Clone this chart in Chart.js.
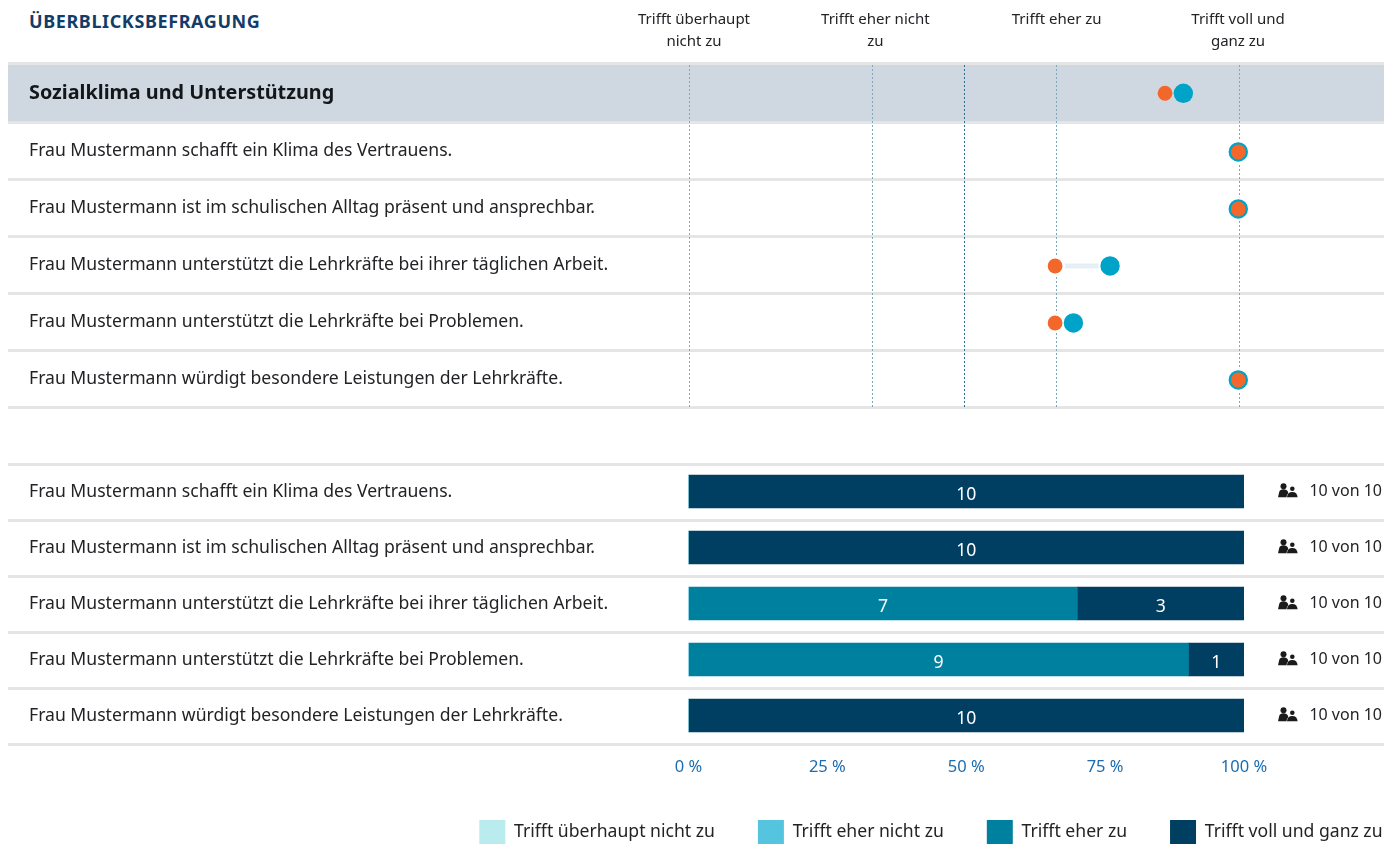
<!DOCTYPE html>
<html lang="de"><head><meta charset="utf-8">
<script src="https://cdn.jsdelivr.net/npm/chart.js@4"></script>
<style>
html,body{margin:0;padding:0;background:#fff;width:1397px;height:844px;overflow:hidden}
canvas{position:absolute;left:0}
#title{position:absolute;left:29px;top:10px;font:700 18px "Noto Sans",sans-serif;letter-spacing:.6px;color:#123c69;line-height:22px}
</style></head><body>
<div id="title">ÜBERBLICKSBEFRAGUNG</div>
<canvas id="top" width="1397" height="421" style="top:0"></canvas>
<canvas id="bottom" width="1397" height="402" style="top:452px"></canvas>
<script>
const FONT='"Noto Sans", sans-serif';
const sectionLabel='Sozialklima und Unterstützung';
const statements=['Frau Mustermann schafft ein Klima des Vertrauens.','Frau Mustermann ist im schulischen Alltag präsent und ansprechbar.','Frau Mustermann unterstützt die Lehrkräfte bei ihrer täglichen Arbeit.','Frau Mustermann unterstützt die Lehrkräfte bei Problemen.','Frau Mustermann würdigt besondere Leistungen der Lehrkräfte.'];
const scaleLabels=[['Trifft überhaupt','nicht zu'],['Trifft eher nicht','zu'],['Trifft eher zu',' '],['Trifft voll und','ganz zu']];
const legendLabels=['Trifft überhaupt nicht zu','Trifft eher nicht zu','Trifft eher zu','Trifft voll und ganz zu'];
const sectionOwn=[3.7];
const sectionCompare=[3.6];
const ownMeans=[4,4,3.3,3.1,4];
const compareMeans=[4,4,3,3,4];
const countNot=[0,0,0,0,0];
const countRather=[0,0,0,0,0];
const countAgree=[0,0,7,9,0];
const countFull=[10,10,3,1,10];
const answered=[10,10,10,10,10];
const totals=[10,10,10,10,10];
const gridValues=[1,2,2.5,3,4];
const axisPercents=[0,25,50,75,100];

const BAND='#cfd8e1',SEP='#e5e5e5',ORANGE='#f4672a',BLUE='#00a3c8',TXT='#222326';
const topRows=[sectionLabel,...statements];

function rowPts(vals){return vals.map((v,i)=>({x:v,y:i+1}));}
const bandPlugin={id:'bands',beforeDraw(c){
  const g=c.ctx,a=c.chartArea,h=(a.bottom-a.top)/topRows.length;
  g.save();
  g.fillStyle=BAND;g.fillRect(8,a.top,c.width-21,h);
  g.fillStyle=SEP;
  for(let i=0;i<=topRows.length;i++){const yy=Math.round(a.top+h*i);g.fillRect(8,i==0?yy-3:yy-1,c.width-21,3);}
  g.restore();
}};
new Chart(document.getElementById('top'),{
 type:'scatter',
 data:{datasets:[
  {data:[{x:compareMeans[2],y:3},{x:ownMeans[2],y:3}],type:'line',showLine:true,borderColor:'#e6eff4',borderWidth:5,pointRadius:0,xAxisID:'x',yAxisID:'yDots',order:5},
  {data:rowPts(compareMeans),backgroundColor:'#fff',borderWidth:0,pointRadius:10,xAxisID:'x',yAxisID:'yDots',order:4},
  {data:rowPts(ownMeans),backgroundColor:BLUE,borderColor:'#fff',borderWidth:2,pointRadius:10.7,xAxisID:'x',yAxisID:'yDots',order:3},
  {data:rowPts(compareMeans),backgroundColor:ORANGE,borderWidth:0,pointRadius:7.4,xAxisID:'x',yAxisID:'yDots',order:2},
  {data:sectionOwn.map(v=>({x:v,y:0})),backgroundColor:BLUE,borderWidth:0,pointRadius:9.7,xAxisID:'x',yAxisID:'yHead',order:3},
  {data:sectionCompare.map(v=>({x:v,y:0})),backgroundColor:ORANGE,borderWidth:0,pointRadius:7.4,xAxisID:'x',yAxisID:'yHead',order:2}
 ]},
 options:{responsive:false,animation:false,devicePixelRatio:1,
  layout:{padding:{left:29,right:13,top:0,bottom:14}},
  plugins:{legend:{display:false},tooltip:{enabled:false}},
  scales:{
   x:{type:'linear',axis:'x',display:false,min:0.9525,max:4.7953},
   xGrid:{type:'linear',axis:'x',position:'bottom',min:0.9482,max:4.7883,
     afterBuildTicks:s=>{s.ticks=gridValues.map(v=>({value:v}));},
     afterFit:s=>{s.height=0;},
     border:{display:false,dash:[2,2]},
     grid:{drawTicks:false,lineWidth:1,color:ctx=>ctx.tick&&ctx.tick.value===2.5?'#2c6f88':'#7fa9bd'},
     ticks:{display:false}},
   xHead:{type:'linear',axis:'x',position:'top',min:0.9228,max:4.805,
     afterBuildTicks:s=>{s.ticks=[1,2,3,4].map(v=>({value:v}));},
     afterFit:s=>{s.height=65;},
     border:{display:false},grid:{display:false,drawTicks:false},
     ticks:{autoSkip:false,maxRotation:0,padding:12,color:TXT,font:{family:FONT,size:15,lineHeight:1.47},callback:v=>scaleLabels[v-1]}},
   y:{type:'linear',axis:'y',position:'left',reverse:true,min:-0.505,max:5.495,
     afterBuildTicks:s=>{s.ticks=topRows.map((r,i)=>({value:i}));},
     afterFit:s=>{s.width=651;},
     border:{display:false},grid:{display:false,drawTicks:false},
     ticks:{autoSkip:false,crossAlign:'far',padding:0,color:ctx=>ctx.index===0?'#14171a':TXT,callback:v=>topRows[v],
       font:ctx=>ctx.index===0?{family:FONT,size:19.8,weight:'700'}:{family:FONT,size:17.6}}},
   yDots:{type:'linear',axis:'y',display:false,reverse:true,min:-0.526,max:5.474},
   yHead:{type:'linear',axis:'y',display:false,reverse:true,min:-0.496,max:5.504}
  }},
 plugins:[bandPlugin]
});

const barSepPlugin={id:'seps',beforeDraw(c){
  const g=c.ctx,a=c.chartArea,n=statements.length,h=(a.bottom-a.top)/n;
  g.save();g.fillStyle=SEP;
  for(let i=0;i<=n;i++){g.fillRect(8,Math.round(a.top+h*i)-1,1376,3);}
  g.restore();
}};
const barLabelPlugin={id:'barLabels',afterDatasetsDraw(c){
  const g=c.ctx;g.save();g.fillStyle='#fff';g.font='17.6px '+FONT;g.textAlign='center';g.textBaseline='middle';
  c.data.datasets.forEach((d,di)=>{c.getDatasetMeta(di).data.forEach((el,i)=>{
    if(d.data[i]>0){const p=el.getCenterPoint();g.fillText(String(d.data[i]),p.x,p.y+3);}
  });});
  g.restore();
}};
const legendShiftPlugin={id:'legendShift',afterLayout(c){c.legend.left+=44;c.legend.right+=44;c.legend.lineWidths[0]+=0.5;}};
const iconPlugin={id:'people',afterDraw(c){
  const g=c.ctx,s=c.scales.yRight;g.save();
  s.ticks.forEach((t,i)=>{
    const y=s.getPixelForTick(i),x=1278;
    g.fillStyle='#1b1b1b';
    g.beginPath();g.arc(x+5.5,y-5.2,3,0,7);g.fill();
    g.beginPath();g.moveTo(x,y+5.8);g.lineTo(x+1.2,y+0.5);g.quadraticCurveTo(x+2,y-2.2,x+5.5,y-2.2);g.quadraticCurveTo(x+9,y-2.2,x+10,y+0.5);g.lineTo(x+11.5,y+5.8);g.closePath();g.fill();
    g.beginPath();g.arc(x+14.3,y-2.8,2.3,0,7);g.fill();
    g.beginPath();g.moveTo(x+9,y+5.8);g.quadraticCurveTo(x+9.5,y+0.5,x+14.3,y+0.5);g.quadraticCurveTo(x+19.2,y+0.5,x+19.6,y+5.8);g.closePath();
    g.strokeStyle='#fff';g.lineWidth=1;g.stroke();g.fill();
  });
  g.restore();
}};
const barColors=['#b9ebef','#55c4df','#00809f','#003f62'];
const barCounts=[countNot,countRather,countAgree,countFull];
new Chart(document.getElementById('bottom'),{
 type:'bar',
 data:{labels:statements,datasets:legendLabels.map((l,i)=>({label:l,data:barCounts[i],backgroundColor:barColors[i],barThickness:33,borderWidth:0,yAxisID:'y',xAxisID:'x'}))},
 options:{indexAxis:'y',responsive:false,animation:false,devicePixelRatio:1,
  layout:{padding:{left:29,right:15,top:11.5,bottom:0}},
  plugins:{tooltip:{enabled:false},
   legend:{display:true,position:'bottom',align:'end',labels:{boxWidth:26,boxHeight:24,padding:43,color:TXT,font:{family:FONT,size:17.6,lineHeight:1.364}}}},
  scales:{
   x:{type:'linear',stacked:true,min:0,max:10,
     afterBuildTicks:s=>{s.ticks=axisPercents.map(v=>({value:v/10}));},
     afterFit:s=>{s.height=33.5;},
     border:{display:false},grid:{display:false,drawTicks:false},
     ticks:{autoSkip:false,maxRotation:0,padding:14,color:'#1b6cb0',font:{family:FONT,size:16.5},callback:v=>(v*10)+' %'}},
   y:{type:'category',stacked:true,position:'left',offset:true,
     afterFit:s=>{s.width=659.5;},
     border:{display:false},grid:{display:false,drawTicks:false},
     ticks:{autoSkip:false,crossAlign:'far',padding:0,color:TXT,font:{family:FONT,size:17.6}}},
   yRight:{type:'category',axis:'y',position:'right',offset:true,labels:answered.map((a,i)=>a+' von '+totals[i]),
     afterFit:s=>{s.width=138;},
     border:{display:false},grid:{display:false,drawTicks:false},
     ticks:{autoSkip:false,crossAlign:'far',padding:0,color:TXT,font:{family:FONT,size:16}}}
  }},
 plugins:[barSepPlugin,barLabelPlugin,iconPlugin,legendShiftPlugin]
});
</script></body></html>
